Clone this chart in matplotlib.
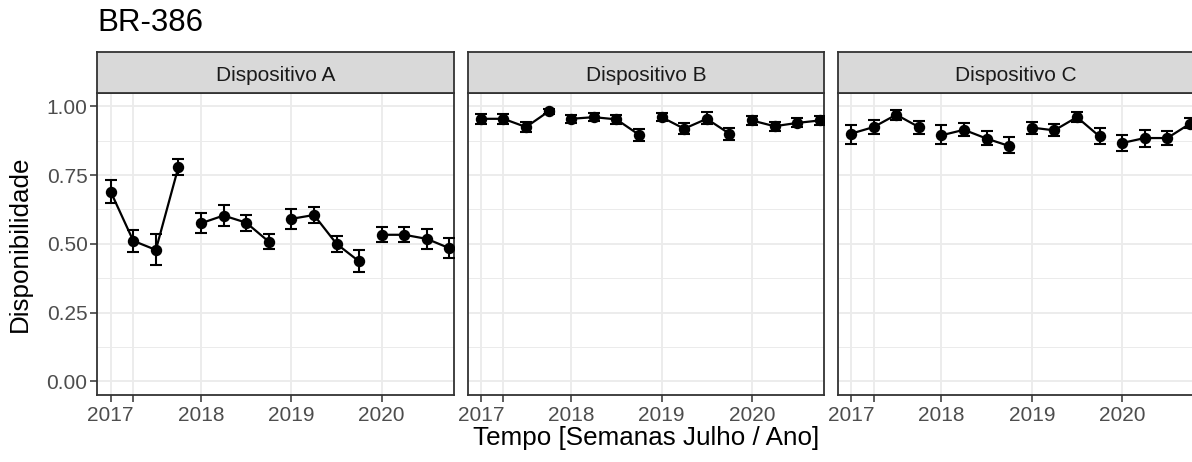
import numpy as np
import matplotlib
matplotlib.use('Agg')
from matplotlib import pyplot as plt

plt.rcParams['font.family'] = ['Liberation Sans', 'DejaVu Sans']

# semanas de julho (1 a 4) de cada ano
anos = [2017, 2018, 2019, 2020]
semanas = [1, 2, 3, 4]
dispositivos = ['Dispositivo A', 'Dispositivo B', 'Dispositivo C']

media_a = [0.690, 0.511, 0.478, 0.780, 0.575, 0.603, 0.577, 0.508,
           0.591, 0.605, 0.500, 0.436, 0.533, 0.533, 0.518, 0.484]
inf_a = [0.647, 0.469, 0.424, 0.752, 0.541, 0.566, 0.548, 0.481,
         0.554, 0.577, 0.469, 0.396, 0.505, 0.505, 0.482, 0.450]
sup_a = [0.732, 0.551, 0.535, 0.807, 0.614, 0.641, 0.605, 0.536,
         0.627, 0.633, 0.530, 0.478, 0.560, 0.563, 0.553, 0.521]

media_b = [0.955, 0.955, 0.925, 0.982, 0.955, 0.961, 0.953, 0.897,
           0.961, 0.919, 0.955, 0.901, 0.949, 0.928, 0.940, 0.949]
inf_b = [0.935, 0.935, 0.907, 0.971, 0.941, 0.946, 0.935, 0.874,
         0.946, 0.899, 0.935, 0.877, 0.931, 0.911, 0.924, 0.931]
sup_b = [0.973, 0.973, 0.943, 0.991, 0.970, 0.975, 0.970, 0.917,
         0.975, 0.939, 0.979, 0.921, 0.966, 0.943, 0.957, 0.966]

media_c = [0.901, 0.925, 0.970, 0.925, 0.895, 0.915, 0.883, 0.856,
           0.923, 0.913, 0.961, 0.891, 0.867, 0.885, 0.885, 0.937]
inf_c = [0.865, 0.901, 0.949, 0.901, 0.862, 0.891, 0.859, 0.829,
         0.901, 0.891, 0.943, 0.862, 0.838, 0.853, 0.859, 0.920]
sup_c = [0.934, 0.949, 0.986, 0.947, 0.931, 0.939, 0.911, 0.887,
         0.943, 0.937, 0.979, 0.920, 0.895, 0.913, 0.911, 0.957]

dados = [(media_a, inf_a, sup_a), (media_b, inf_b, sup_b), (media_c, inf_c, sup_c)]

x_ticks = [2017, 2017.25, 2018, 2019, 2020]
x_labels = ['2017', '', '2018', '2019', '2020']
y_ticks = [0.0, 0.25, 0.5, 0.75, 1.0]
y_labels = ['0.00', '0.25', '0.50', '0.75', '1.00']

W, H = 1192, 462
fig = plt.figure(figsize=(W / 100, H / 100), dpi=100)

esq, larg, gap = 97.3, 356.8, 13.4
topo, base = 92.7, 395.0
strip_topo = 51.5
cinza = '#333333'

for i, (nome, (med, inf, sup)) in enumerate(zip(dispositivos, dados)):
    x0 = esq + i * (larg + gap)
    ax = fig.add_axes([x0 / W, 1 - base / H, larg / W, (base - topo) / H])
    med, inf, sup = np.array(med), np.array(inf), np.array(sup)
    for j, ano in enumerate(anos):
        xs = ano + (np.array(semanas) - 1) / 4
        sl = slice(j * 4, j * 4 + 4)
        ax.errorbar(xs, med[sl], yerr=[med[sl] - inf[sl], sup[sl] - med[sl]],
                    fmt='none', ecolor='black', elinewidth=1.5, capsize=4,
                    capthick=1.5, zorder=3)
        ax.plot(xs, med[sl], color='black', lw=1.6, zorder=4)
        ax.plot(xs, med[sl], 'o', color='black', ms=7.2, zorder=5)

    ax.set_xlim(2016.852, 2020.801)
    ax.set_ylim(-0.05, 1.05)
    ax.set_xticks(x_ticks)
    ax.set_xticklabels(x_labels)
    ax.set_yticks(y_ticks)
    ax.set_yticks([0.125, 0.375, 0.625, 0.875], minor=True)
    if i == 0:
        ax.set_yticklabels(y_labels)
    else:
        ax.tick_params(axis='y', which='both', left=False, labelleft=False)
    ax.tick_params(axis='both', which='major', length=5, width=1.1, color=cinza,
                   labelsize=15, labelcolor='#4D4D4D')
    ax.tick_params(axis='x', pad=3)
    ax.tick_params(axis='y', pad=2)
    ax.tick_params(axis='y', which='minor', length=0)
    ax.grid(True, which='major', color='#EBEBEB', lw=1.3)
    ax.grid(True, which='minor', axis='y', color='#EBEBEB', lw=0.7)
    ax.set_axisbelow(True)
    for s in ax.spines.values():
        s.set_color(cinza)
        s.set_linewidth(1.3)

    # faixa com o nome do dispositivo
    st = fig.add_axes([x0 / W, 1 - topo / H, larg / W, (topo - strip_topo) / H])
    st.set_facecolor('#D9D9D9')
    st.set_xticks([])
    st.set_yticks([])
    for s in st.spines.values():
        s.set_color(cinza)
        s.set_linewidth(1.3)
    st.text(0.5, 0.296, nome, ha='center', va='baseline', fontsize=15,
            color='#1A1A1A', transform=st.transAxes)

fig.text(97 / W, 1 - 30.7 / H, 'BR-386', fontsize=22.5, ha='left', va='baseline')
fig.text(646 / W, 1 - 445 / H, 'Tempo [Semanas Julho / Ano]', fontsize=18.7,
         ha='center', va='baseline')
fig.text(20 / W, 1 - 244 / H, 'Disponibilidade', fontsize=18.7, rotation=90,
         ha='center', va='center')

fig.savefig('out.png', dpi=100)
